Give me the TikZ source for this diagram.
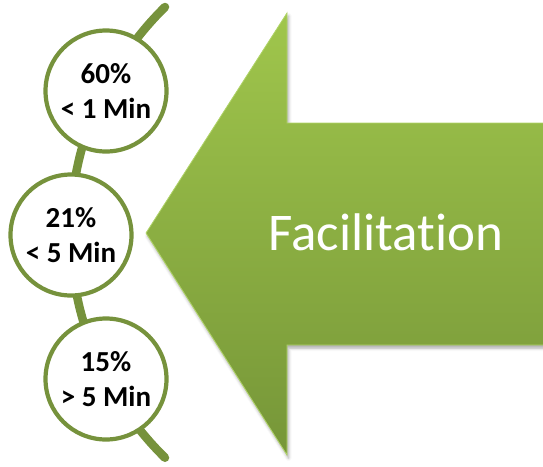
\documentclass[tikz,border=0pt]{standalone}
\usepackage{fontspec}
\setmainfont{Carlito}[Ligatures={NoCommon}]
\usetikzlibrary{shadows.blur}

\definecolor{olive}{RGB}{118,146,60}
\definecolor{arrowtop}{RGB}{160,198,76}
\definecolor{arrowbot}{RGB}{118,150,56}
\definecolor{arrowedge}{RGB}{176,212,104}

\begin{document}
\begin{tikzpicture}[x=1pt,y=-1pt,
    stem/.style={olive, line width=8.5pt, line cap=round},
    stat/.style={circle, draw=olive, line width=4.2pt, fill=white, minimum size=121pt,
        inner sep=0pt, align=center, font=\fontsize{29}{35}\selectfont\bfseries}]
        \useasboundingbox (0,0) rectangle (543,466);
        % big arrow
        \shade[top color=arrowtop, bottom color=arrowbot, draw=arrowedge, line width=0.8pt,
            blur shadow={shadow xshift=1.5pt, shadow yshift=-3pt, shadow blur radius=3pt, shadow opacity=35}]
            (146,233) -- (287,13) -- (287,123) -- (546,123) -- (546,345) -- (287,345) -- (287,455) -- cycle;
        \node[white, anchor=base, font=\fontsize{53}{60}\selectfont] (facil) at (386,250) {Facilitation};

        % curved stem behind the circles
        \coordinate (stemtop) at (165,7);
        \draw[stem] (stemtop) arc[start angle=225.5, end angle=134.5, radius=316];

        \node[stat] (t1) at (106,91) {60\%\\< 1 Min};
        \node[stat] (t2) at (71,235) {21\%\\< 5 Min};
        \node[stat] (t3) at (106,379) {15\%\\> 5 Min};
    \end{tikzpicture}
\end{document}
